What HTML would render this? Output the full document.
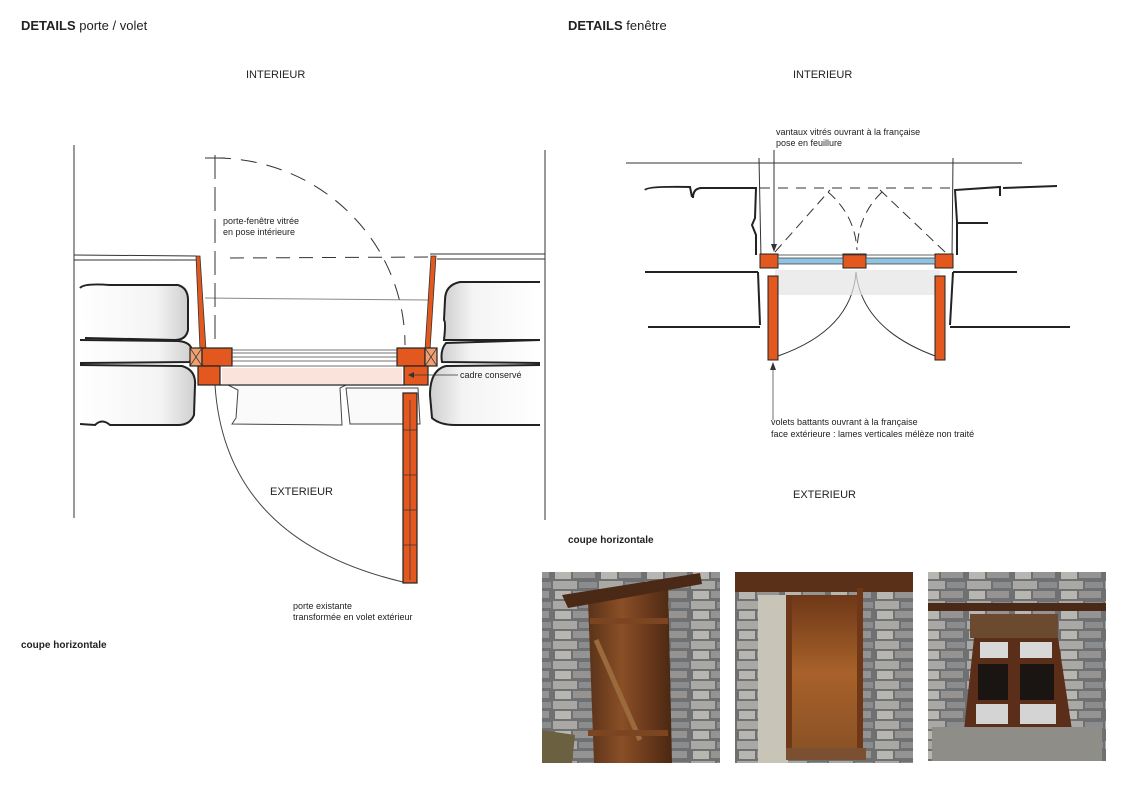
<!DOCTYPE html>
<html><head><meta charset="utf-8">
<style>
html,body{margin:0;padding:0;background:#fff}
body{width:1134px;height:787px;overflow:hidden;position:relative;font-family:"Liberation Sans Narrow","Liberation Sans",sans-serif}
svg{position:absolute;left:0;top:0}
</style></head><body>
<svg width="1134" height="787" viewBox="0 0 1134 787" xmlns="http://www.w3.org/2000/svg" font-family="Liberation Sans, sans-serif">
<defs>
<linearGradient id="stoneL" x1="0" x2="1"><stop offset="0" stop-color="#fff"/><stop offset="0.7" stop-color="#f4f4f4"/><stop offset="1" stop-color="#cfcfcf"/></linearGradient>
<linearGradient id="stoneR" x1="1" x2="0"><stop offset="0" stop-color="#fff"/><stop offset="0.7" stop-color="#f4f4f4"/><stop offset="1" stop-color="#cfcfcf"/></linearGradient>
<linearGradient id="wood1" x1="0" x2="1"><stop offset="0" stop-color="#5a3219"/><stop offset="0.4" stop-color="#8a4f26"/><stop offset="0.7" stop-color="#6b3a1c"/><stop offset="1" stop-color="#4a2812"/></linearGradient>
<linearGradient id="wood2" x1="0" y1="0" x2="0" y2="1"><stop offset="0" stop-color="#6e3818"/><stop offset="0.5" stop-color="#a8612a"/><stop offset="1" stop-color="#8a5226"/></linearGradient>
<pattern id="stones" width="46" height="20" patternUnits="userSpaceOnUse">
<rect width="46" height="20" fill="#6f7072"/>
<rect x="1" y="1" width="24" height="8" fill="#a9a8a4"/><rect x="27" y="2" width="18" height="6" fill="#8b8c8e"/>
<rect x="3" y="11" width="16" height="8" fill="#b8b6b0"/><rect x="21" y="11" width="22" height="7" fill="#959492"/>
</pattern>
</defs>

<text x="21" y="30" font-size="13" font-weight="bold" fill="#222">DETAILS <tspan font-weight="normal">porte / volet</tspan></text>
<text x="568" y="30" font-size="13" font-weight="bold" fill="#222">DETAILS <tspan font-weight="normal">fenêtre</tspan></text>
<text x="246" y="78" font-size="11" fill="#222">INTERIEUR</text>
<text x="793" y="78" font-size="11" fill="#222">INTERIEUR</text>

<!-- LEFT DRAWING -->
<g stroke="#333" fill="none" stroke-width="1">
<line x1="74" y1="145" x2="74" y2="518"/>
<line x1="545" y1="150" x2="545" y2="520"/>
<line x1="74" y1="255" x2="196" y2="256"/>
<line x1="74" y1="260" x2="196" y2="260"/>
<line x1="430" y1="254" x2="545" y2="254"/>
<line x1="437" y1="259" x2="545" y2="259"/>
<line x1="205" y1="298" x2="428" y2="300" stroke="#888"/>
<line x1="215" y1="155" x2="215" y2="345" stroke-dasharray="24 8"/>
<line x1="205" y1="158" x2="225" y2="158"/>
<line x1="230" y1="258" x2="430" y2="257" stroke-dasharray="14 9"/>
<path d="M215 158 A190 187 0 0 1 405 345" stroke-dasharray="16 10"/>
<path d="M215 385 Q225 540 403 582" stroke="#444"/>
</g>
<g stroke="#222" stroke-width="2" fill="url(#stoneL)">
<path d="M80 288 Q84 283 110 285 L178 285 Q188 288 188 300 L188 330 Q186 340 175 340 L85 338"/>
<path d="M80 340 L178 341 Q192 342 192 352 L190 362 L80 363"/>
<path d="M80 365 L182 366 Q196 370 195 385 L194 415 Q190 425 178 425 L110 425 Q102 418 95 425 L80 424"/>
</g>
<g stroke="#444" stroke-width="1" fill="url(#stoneL)">
<path d="M228 385 L238 390 L236 418 L232 424 L342 425 L340 388 L346 385 Z" fill="#fafafa"/>
<path d="M346 388 L350 424 L420 424 L418 388 Z" fill="#fafafa"/>
</g>
<g stroke="#222" stroke-width="2" fill="url(#stoneR)">
<path d="M540 282 L460 282 Q445 285 445 300 L444 320 Q446 322 444 340 L540 340"/>
<path d="M540 340 L446 343 Q440 350 442 362 L540 363"/>
<path d="M540 365 L446 366 Q430 370 430 395 L432 418 Q440 425 455 425 L540 425"/>
</g>
<g fill="#e2581f" stroke="#333" stroke-width="0.8">
<polygon points="196,256 200,256 206,350 200,350"/>
<polygon points="431,256 436,256 430,350 425,350"/>
</g>
<g stroke="#222" stroke-width="1.2" fill="#e2581f">
<rect x="190" y="348" width="12" height="18" fill="#f0a070"/>
<rect x="202" y="348" width="30" height="18"/>
<rect x="198" y="366" width="22" height="19"/>
<rect x="397" y="348" width="28" height="18"/>
<rect x="425" y="348" width="12" height="18" fill="#f0a070"/>
<rect x="404" y="366" width="24" height="19"/>
<rect x="403" y="393" width="14" height="190"/>
</g>
<g stroke="#333" stroke-width="0.7"><line x1="190" y1="348" x2="202" y2="366"/><line x1="202" y1="348" x2="190" y2="366"/>
<line x1="425" y1="348" x2="437" y2="366"/><line x1="437" y1="348" x2="425" y2="366"/>
<line x1="410" y1="400" x2="410" y2="580"/>
<line x1="403" y1="430" x2="417" y2="430"/><line x1="403" y1="475" x2="417" y2="475"/><line x1="403" y1="510" x2="417" y2="510"/><line x1="403" y1="545" x2="417" y2="545"/></g>
<g stroke="#444" stroke-width="0.8">
<line x1="232" y1="350" x2="397" y2="350"/><line x1="232" y1="353" x2="397" y2="353"/>
<line x1="232" y1="357" x2="397" y2="357"/><line x1="232" y1="361" x2="397" y2="361"/>
<line x1="220" y1="385" x2="404" y2="385" stroke="#222" stroke-width="1.2"/>
<line x1="220" y1="366" x2="404" y2="366"/>
</g>
<rect x="222" y="368" width="180" height="16" fill="#f6c8b8" opacity="0.5"/>
<line x1="409" y1="375" x2="458" y2="375" stroke="#333" stroke-width="0.7"/>
<polygon points="408,375 414,372 414,378" fill="#333"/>

<text x="223" y="224" font-size="9" fill="#222">porte-fenêtre vitrée</text>
<text x="223" y="235" font-size="9" fill="#222">en pose intérieure</text>
<text x="460" y="378" font-size="9" fill="#222">cadre conservé</text>
<text x="270" y="495" font-size="11" fill="#222">EXTERIEUR</text>
<text x="293" y="609" font-size="9" fill="#222">porte existante</text>
<text x="293" y="620" font-size="9" fill="#222">transformée en volet extérieur</text>
<text x="21" y="648" font-size="10" font-weight="bold" fill="#222">coupe horizontale</text>

<!-- RIGHT DRAWING -->
<g stroke="#333" fill="none" stroke-width="1">
<line x1="626" y1="163" x2="1022" y2="163"/>
<line x1="759" y1="158" x2="761" y2="258"/>
<line x1="953" y1="158" x2="952" y2="258"/>
<line x1="774" y1="150" x2="774" y2="250"/>
<line x1="760" y1="188" x2="953" y2="188" stroke-dasharray="10 8"/>
<path d="M775 252 L830 190" stroke-dasharray="10 6"/>
<path d="M945 252 L880 190" stroke-dasharray="10 6"/>
<path d="M828 192 Q855 215 857 250" stroke-dasharray="10 6"/>
<path d="M882 192 Q858 215 857 250" stroke-dasharray="10 6"/>
<path d="M856 272 Q852 330 778 356"/>
<path d="M856 272 Q862 330 938 357"/>
</g>
<g stroke="#222" stroke-width="2" fill="none">
<path d="M645 190 Q647 186 690 187 L692 197 M693 198 Q693 188 702 188 L756 188 L755 218 L752 225 L756 235 L756 255"/>
<path d="M645 272 L758 272"/>
<path d="M648 327 L760 327"/>
<path d="M957 255 L957 222 L955 190 L1000 187 L1000 196 M1003 188 L1057 186"/>
<path d="M957 223 L988 223"/>
<path d="M953 272 L1017 272"/>
<path d="M950 327 L1070 327"/>
<path d="M758 272 L760 325"/>
<path d="M953 272 L950 325"/>
</g>
<rect x="775" y="270" width="165" height="25" fill="#e4e4e4" opacity="0.7"/>
<g stroke="#222" stroke-width="1" fill="#e2581f">
<rect x="760" y="254" width="18" height="14"/>
<rect x="843" y="254" width="23" height="14"/>
<rect x="935" y="254" width="18" height="14"/>
<rect x="768" y="276" width="10" height="84"/>
<rect x="935" y="276" width="10" height="84"/>
</g>
<g stroke="#333" stroke-width="0.7">
<rect x="778" y="258" width="65" height="6" fill="#8fc3e0"/>
<rect x="866" y="258" width="69" height="6" fill="#8fc3e0"/>
<line x1="778" y1="255" x2="935" y2="255"/>
</g>
<line x1="773" y1="364" x2="773" y2="420" stroke="#333" stroke-width="0.7"/>
<polygon points="773,362 770,370 776,370" fill="#333"/>
<polygon points="774,252 771,244 777,244" fill="#333"/>
<text x="776" y="135" font-size="9" fill="#222">vantaux vitrés ouvrant à la française</text>
<text x="776" y="146" font-size="9" fill="#222">pose en feuillure</text>
<text x="771" y="425" font-size="9" fill="#222">volets battants ouvrant à la française</text>
<text x="771" y="437" font-size="9" fill="#222">face extérieure : lames verticales mélèze non traité</text>
<text x="793" y="498" font-size="11" fill="#222">EXTERIEUR</text>
<text x="568" y="543" font-size="10" font-weight="bold" fill="#222">coupe horizontale</text>

<!-- PHOTOS -->
<rect x="542" y="572" width="178" height="191" fill="url(#stones)"/>
<polygon points="588,600 668,580 672,763 594,763" fill="url(#wood1)"/>
<polygon points="562,595 700,573 702,584 568,608" fill="#4a2a16"/>
<line x1="596" y1="640" x2="640" y2="740" stroke="#9a6a3c" stroke-width="5"/>
<rect x="590" y="618" width="78" height="6" fill="#7a4520"/>
<rect x="588" y="730" width="80" height="6" fill="#7a4520"/>
<path d="M542 730 L575 735 L572 763 L542 763Z" fill="#6b6040"/>

<rect x="735" y="572" width="178" height="191" fill="url(#stones)"/>
<rect x="735" y="572" width="178" height="20" fill="#5b3018"/>
<rect x="758" y="595" width="30" height="168" fill="#c9c4b8"/>
<rect x="786" y="595" width="77" height="155" fill="url(#wood2)"/>
<rect x="786" y="595" width="6" height="155" fill="#6e3818"/>
<rect x="857" y="588" width="6" height="162" fill="#6e3818"/>
<rect x="786" y="748" width="80" height="12" fill="#7a5030"/>

<rect x="928" y="572" width="178" height="189" fill="url(#stones)"/>
<rect x="928" y="603" width="178" height="8" fill="#4a2a16"/>
<rect x="970" y="614" width="88" height="24" fill="#6b4a30"/>
<polygon points="974,638 1058,638 1072,730 964,730" fill="#5a2e18"/>
<rect x="980" y="642" width="28" height="16" fill="#d8d8d8"/>
<rect x="1020" y="642" width="32" height="16" fill="#d8d8d8"/>
<rect x="978" y="664" width="30" height="36" fill="#1a1412"/>
<rect x="1020" y="664" width="34" height="36" fill="#1a1412"/>
<rect x="976" y="704" width="32" height="20" fill="#d4d4d4"/>
<rect x="1020" y="704" width="36" height="20" fill="#d4d4d4"/>
<rect x="932" y="727" width="170" height="34" fill="#8f8d88"/>
</svg>
</body></html>
